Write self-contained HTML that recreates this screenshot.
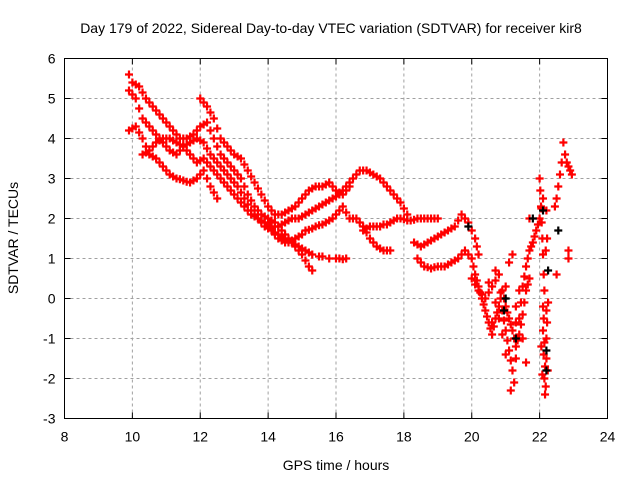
<!DOCTYPE html>
<html><head><meta charset="utf-8"><style>
html,body{margin:0;padding:0;background:#fff}
svg{display:block;font-family:"Liberation Sans",sans-serif}
</style></head><body>
<svg id="chart" width="640" height="480" viewBox="0 0 640 480">
<rect width="640" height="480" fill="#fff"/>
<text x="331" y="33" font-size="14" text-anchor="middle">Day 179 of 2022, Sidereal Day-to-day VTEC variation (SDTVAR) for receiver kir8</text>
<text x="336" y="470" font-size="14" text-anchor="middle">GPS time / hours</text>
<text transform="translate(18,238) rotate(-90)" font-size="14" text-anchor="middle">SDTVAR / TECUs</text>
<g id="grid"></g>
<g id="ticks"></g>
<g id="marks"></g>
<rect x="64.5" y="58.5" width="543" height="360" fill="none" stroke="#000" stroke-width="1"/>
</svg>
<script>
const xTicks=[8,10,12,14,16,18,20,22,24];
const yTicks=[-3,-2,-1,0,1,2,3,4,5,6];
const trackA=[[9.9,5.6],[10.0,5.4],[10.1,5.35],[10.2,5.3],[10.3,5.15],[10.4,5.0],[10.5,4.9],[10.6,4.8],[10.7,4.7],[10.8,4.6],[10.9,4.5],[11.0,4.4],[11.1,4.3],[11.2,4.2],[11.3,4.1],[11.4,4.0],[11.5,4.0],[11.6,4.0],[11.7,4.05],[11.8,4.1],[11.9,4.2],[12.0,4.3],[12.1,4.35],[12.2,4.4],[12.3,4.2],[12.4,4.0],[12.5,3.8],[12.6,3.6],[12.7,3.5],[12.8,3.4],[12.9,3.3],[13.0,3.2],[13.1,3.1],[13.2,3.0],[13.3,2.8],[13.4,2.6],[13.5,2.45],[13.6,2.3],[13.7,2.2],[13.8,2.1],[13.9,2.05],[14.0,2.0],[14.1,1.95],[14.2,1.9],[14.3,1.8],[14.4,1.7],[14.5,1.6],[14.6,1.5],[14.7,1.4],[14.8,1.3],[14.9,1.2],[15.0,1.1],[15.1,0.95],[15.2,0.8],[15.3,0.7]];
const trackB=[[9.9,5.2],[10.0,5.1],[10.1,5.0],[10.2,4.75],[10.3,4.5],[10.4,4.4],[10.5,4.3],[10.6,4.2],[10.7,4.1],[10.8,4.0],[10.9,3.9],[11.0,3.8],[11.1,3.7],[11.2,3.65],[11.3,3.6],[11.4,3.7],[11.5,3.8],[11.6,3.85],[11.7,3.9],[11.8,3.95],[11.9,4.0],[12.0,3.95],[12.1,3.9],[12.2,3.75],[12.3,3.6],[12.4,3.5],[12.5,3.4],[12.6,3.3],[12.7,3.2],[12.8,3.1],[12.9,3.0],[13.0,2.9],[13.1,2.8],[13.2,2.65],[13.3,2.5],[13.4,2.35],[13.5,2.2],[13.6,2.1],[13.7,2.0],[13.8,1.9],[13.9,1.8],[14.0,1.75],[14.1,1.7],[14.2,1.65],[14.3,1.6],[14.4,1.55],[14.5,1.5],[14.6,1.45],[14.7,1.4],[14.8,1.35],[14.9,1.3],[15.0,1.25],[15.1,1.2],[15.2,1.15],[15.3,1.1],[15.5,1.05],[15.6,1.05],[15.8,1.0],[16.0,1.0],[16.1,1.0],[16.2,0.98],[16.3,1.0]];
const trackC=[[9.9,4.2],[10.0,4.25],[10.1,4.3],[10.2,4.15],[10.3,4.0],[10.4,3.8],[10.5,3.6],[10.6,3.55],[10.7,3.5],[10.8,3.4],[10.9,3.3],[11.0,3.2],[11.1,3.1],[11.2,3.05],[11.3,3.0],[11.4,2.98],[11.5,2.95],[11.6,2.92],[11.7,2.9],[11.8,2.95],[11.9,3.0],[12.0,3.1],[12.1,3.2],[12.2,3.0],[12.3,2.8],[12.4,2.65],[12.5,2.5]];
const trackD=[[12.0,5.0],[12.1,4.9],[12.2,4.8],[12.3,4.65],[12.4,4.5],[12.5,4.25],[12.6,4.0],[12.7,3.9],[12.8,3.8],[12.9,3.7],[13.0,3.6],[13.1,3.55],[13.2,3.5],[13.3,3.35],[13.4,3.2],[13.5,3.05],[13.6,2.9],[13.7,2.75],[13.8,2.6],[13.9,2.45],[14.0,2.3],[14.1,2.2],[14.2,2.1],[14.3,2.1],[14.4,2.1],[14.5,2.15],[14.6,2.2],[14.7,2.25],[14.8,2.3],[14.9,2.4],[15.0,2.5],[15.1,2.6],[15.2,2.7],[15.3,2.75],[15.4,2.8],[15.5,2.8],[15.6,2.8],[15.7,2.85],[15.8,2.9],[15.9,2.8],[16.0,2.7],[16.1,2.65],[16.2,2.6],[16.3,2.7],[16.4,2.8]];
const trackE=[[10.3,3.6],[10.4,3.65],[10.5,3.7],[10.6,3.8],[10.7,3.9],[10.8,3.95],[10.9,4.0],[11.0,4.0],[11.1,4.0],[11.2,3.95],[11.3,3.9],[11.4,3.85],[11.5,3.8],[11.6,3.7],[11.7,3.6],[11.8,3.5],[11.9,3.4],[12.0,3.45],[12.1,3.5],[12.2,3.4],[12.3,3.3],[12.4,3.2],[12.5,3.1],[12.6,3.0],[12.7,2.9],[12.8,2.8],[12.9,2.7],[13.0,2.6],[13.1,2.5],[13.2,2.4],[13.3,2.3],[13.4,2.2],[13.5,2.1],[13.6,2.05],[13.7,2.0],[13.8,1.95],[13.9,1.9],[14.0,1.85],[14.1,1.8],[14.2,1.8],[14.3,1.8],[14.4,1.85],[14.5,1.9],[14.6,1.95],[14.7,2.0],[14.8,2.0],[14.9,2.0],[15.0,2.05],[15.1,2.1],[15.2,2.15],[15.3,2.2],[15.4,2.25],[15.5,2.3],[15.6,2.35],[15.7,2.4],[15.8,2.45],[15.9,2.5],[16.0,2.55],[16.1,2.6],[16.2,2.7],[16.3,2.8],[16.4,2.9],[16.5,3.0],[16.6,3.1],[16.7,3.2],[16.8,3.2],[16.9,3.2],[17.0,3.15],[17.1,3.1],[17.2,3.05],[17.3,3.0],[17.4,2.9],[17.5,2.8],[17.6,2.7],[17.7,2.6],[17.8,2.5],[17.9,2.4],[18.0,2.25],[18.1,2.1]];
const trackF=[[14.0,1.9],[14.1,1.75],[14.2,1.6],[14.3,1.5],[14.4,1.45],[14.5,1.4],[14.6,1.4],[14.7,1.45],[14.8,1.5],[14.9,1.55],[15.0,1.6],[15.1,1.7],[15.2,1.72],[15.3,1.75],[15.4,1.8],[15.5,1.83],[15.6,1.85],[15.7,1.9],[15.8,1.95],[15.9,2.0],[16.0,2.1],[16.1,2.2],[16.2,2.3],[16.3,2.15],[16.4,2.0],[16.5,2.0],[16.6,2.0],[16.7,1.9],[16.8,1.8],[16.9,1.65],[17.0,1.5],[17.1,1.4],[17.2,1.3],[17.3,1.25],[17.4,1.2],[17.5,1.2],[17.6,1.2]];
const trackG=[[16.8,1.7],[16.9,1.75],[17.0,1.8],[17.1,1.8],[17.2,1.8],[17.3,1.8],[17.4,1.85],[17.5,1.85],[17.6,1.9],[17.7,1.95],[17.8,2.0],[17.9,2.0],[18.0,1.98],[18.1,1.95],[18.2,1.95],[18.3,1.97],[18.4,2.0],[18.5,2.0],[18.6,2.0],[18.7,2.0],[18.8,2.0],[18.9,2.0],[19.0,2.0]];
const trackH=[[18.3,1.4],[18.4,1.35],[18.5,1.3],[18.6,1.35],[18.7,1.4],[18.8,1.45],[18.9,1.5],[19.0,1.55],[19.1,1.6],[19.2,1.65],[19.3,1.7],[19.4,1.75],[19.5,1.8],[19.6,1.95],[19.7,2.1],[19.8,2.0],[19.9,1.9],[20.0,1.7],[20.1,1.5],[20.15,1.3],[20.2,1.1]];
const trackI=[[18.4,1.0],[18.5,0.9],[18.6,0.8],[18.7,0.78],[18.8,0.75],[18.9,0.78],[19.0,0.8],[19.1,0.8],[19.2,0.8],[19.3,0.85],[19.4,0.9],[19.5,0.95],[19.6,1.0],[19.7,1.1],[19.8,1.2],[19.9,1.1],[20.0,1.0],[20.05,0.8],[20.1,0.6],[20.15,0.45],[20.2,0.3],[20.25,0.15],[20.3,0.0],[20.35,-0.15],[20.4,-0.3],[20.45,-0.45],[20.5,-0.6],[20.55,-0.75],[20.6,-0.9],[20.65,-0.7],[20.7,-0.5],[20.75,-0.35],[20.8,-0.2],[20.85,0.0],[20.9,0.2],[20.95,0.0],[21.0,-0.2],[21.05,-0.35],[21.1,-0.5],[21.15,-0.65],[21.2,-0.8],[21.25,-1.0],[21.3,-1.2],[21.35,-1.05],[21.4,-0.9],[21.45,-0.65],[21.5,-0.4],[21.55,-0.1],[21.6,0.2],[21.65,0.35],[21.7,0.5]];
const trackJ=[[20.0,0.5],[20.1,0.35],[20.2,0.2],[20.3,0.1],[20.4,0.0],[20.5,0.15],[20.6,0.3],[20.7,0.45],[20.8,0.6],[20.85,0.15],[20.9,-0.3],[20.95,-0.55],[21.0,-0.8],[21.05,-1.05],[21.1,-1.3],[21.15,-1.55],[21.2,-1.8],[21.25,-2.1],[21.3,-1.5],[21.35,-1.0],[21.4,-0.5],[21.45,-0.1],[21.5,0.3],[21.55,0.55],[21.6,0.8],[21.65,1.0],[21.7,1.2],[21.75,1.3],[21.8,1.4],[21.85,1.55],[21.9,1.7],[21.95,1.85],[22.0,2.0],[22.05,2.25],[22.1,2.5]];
const trackK=[[22.0,3.0],[22.02,2.7],[22.04,2.3],[22.06,1.9],[22.08,1.5],[22.1,1.1],[22.12,0.6],[22.14,0.2],[22.1,-0.2],[22.12,-0.5],[22.1,-0.8],[22.14,-1.1],[22.12,-1.4],[22.16,-1.7],[22.14,-2.0],[22.18,-2.2],[22.16,-2.4],[22.2,-0.3],[22.22,-0.6],[22.2,-1.0],[22.24,-1.8],[22.2,-1.5],[22.22,1.5],[22.18,1.2],[22.2,2.2],[22.25,-0.1],[22.05,-1.2],[22.08,-1.9]];
const trackL=[[22.45,2.3],[22.5,2.5],[22.55,2.8],[22.6,3.1],[22.65,3.4],[22.7,3.9],[22.75,3.6],[22.8,3.4],[22.85,3.3],[22.9,3.2],[22.95,3.1]];
const trackM=[[22.5,0.6],[22.85,1.0],[22.85,1.2],[20.6,-0.6],[20.7,0.7],[21.0,0.3],[21.1,0.9],[21.2,1.1],[21.3,-0.2],[20.5,0.4],[20.9,-0.9],[21.4,0.2],[21.0,-1.4],[21.15,-2.3],[21.7,2.0],[21.6,-1.6],[21.5,-1.0],[20.8,-0.5],[21.3,-0.6],[20.7,-0.1]];
const blackPts=[[19.9,1.8],[21.8,2.0],[22.25,0.7],[22.2,-1.3],[22.55,1.7],[21.0,0.0],[21.3,-1.0],[20.95,-0.3],[22.1,2.2],[22.2,-1.8]];
const redSeries=[trackA,trackB,trackC,trackD,trackE,trackF,trackG,trackH,trackI,trackJ,trackK,trackL,trackM];

const X0=64.5,X1=607.5,Y0=418.5,Y1=58.5;
function sx(v){return X0+(v-8)/(24-8)*(X1-X0);}
function sy(v){return Y0-(v+3)/(6+3)*(Y0-Y1);}
const NS="http://www.w3.org/2000/svg";
const grid=document.getElementById('grid'),ticks=document.getElementById('ticks'),marks=document.getElementById('marks');
function mk(tag,attrs,parent){const e=document.createElementNS(NS,tag);for(const k in attrs)e.setAttribute(k,attrs[k]);parent.appendChild(e);return e;}
xTicks.forEach(t=>{const x=sx(t);
 if(t>8&&t<24){const g=mk('line',{x1:x,x2:x,y1:Y0,y2:Y1,stroke:'#a0a0a0','stroke-dasharray':'3,3','stroke-width':1},grid);
 
 }
 mk('line',{x1:x,x2:x,y1:Y0,y2:Y0-6,stroke:'#000'},ticks);
 mk('line',{x1:x,x2:x,y1:Y1,y2:Y1+6,stroke:'#000'},ticks);
 const tx=mk('text',{x:x,y:Y0+23,'font-size':14,'text-anchor':'middle'},ticks);tx.textContent=t;
 
 
});
yTicks.forEach(t=>{const y=sy(t);
 if(t>-3&&t<6){const g=mk('line',{x1:X0,x2:X1,y1:y,y2:y,stroke:'#a0a0a0','stroke-dasharray':'3,3','stroke-width':1},grid);
 
 }
 mk('line',{x1:X0,x2:X0+6,y1:y,y2:y,stroke:'#000'},ticks);
 mk('line',{x1:X1,x2:X1-6,y1:y,y2:y,stroke:'#000'},ticks);
 const tx=mk('text',{x:X0-9,y:y+5,'font-size':14,'text-anchor':'end'},ticks);tx.textContent=t;
 
 
});
function plus(p,color){const x=sx(p[0]),y=sy(p[1]);
 const e=mk('path',{d:`M${x-4},${y}H${x+4}M${x},${y-4}V${y+4}`,stroke:color,'stroke-width':2.2,fill:'none'},marks);
 
 }
redSeries.forEach(s=>s.forEach(p=>plus(p,'#ff0000')));
blackPts.forEach(p=>plus(p,'#000000'));
</script>
</body></html>
